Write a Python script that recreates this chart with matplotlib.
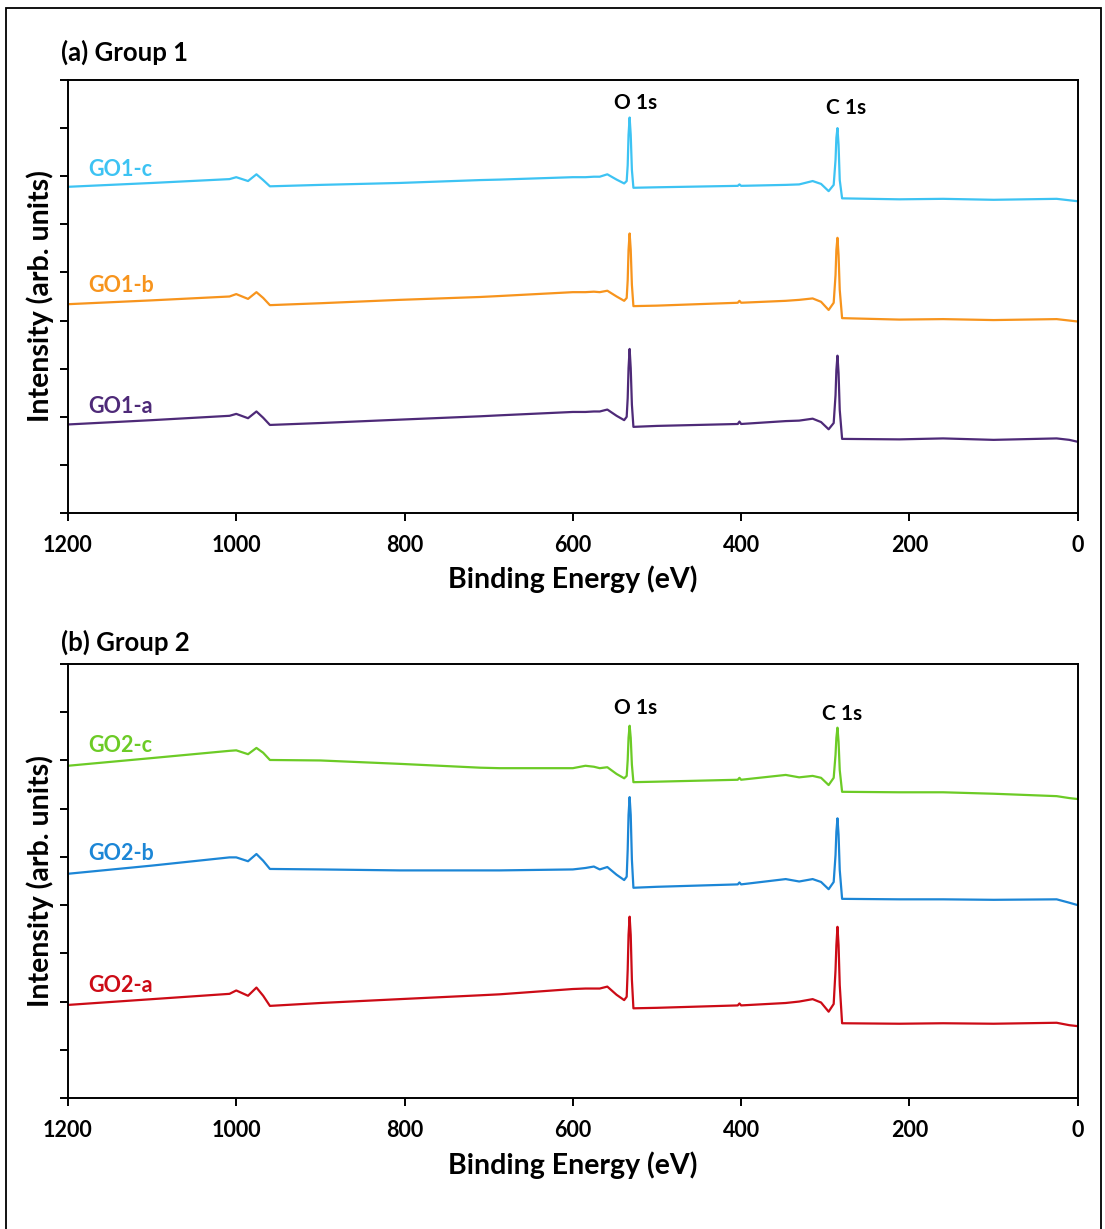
import matplotlib
matplotlib.use("Agg")
import matplotlib.pyplot as plt
from matplotlib.patches import Rectangle

plt.rcParams['font.family'] = ['Lato', 'DejaVu Sans']
plt.rcParams['font.weight'] = 'bold'

# binding energy (eV), shared by all six survey spectra
binding_energy = [1200, 1100, 1008, 1000, 986, 976, 968, 960, 900, 806, 710, 687,
                  600, 585, 575, 568, 559, 548, 539, 536, 534.8, 533.8, 532.5, 531.2,
                  529.8, 528, 500, 404, 402, 400, 347, 331, 315, 305, 296, 290, 287.8,
                  286.8, 285.5, 284.2, 282.8, 280, 212, 160, 100, 25, 10, 0]

# group 1 intensities (arb. units, stacked)
go1_c = [6.78, 6.86, 6.94, 6.98, 6.90, 7.04, 6.92, 6.79, 6.82, 6.86, 6.92, 6.93,
         6.98, 6.98, 6.99, 6.99, 7.04, 6.93, 6.85, 6.90, 7.23, 7.86, 8.22, 7.86,
         7.13, 6.76, 6.77, 6.80, 6.83, 6.80, 6.82, 6.83, 6.90, 6.84, 6.69, 6.82, 7.34,
         7.80, 8.00, 7.65, 6.92, 6.54, 6.52, 6.53, 6.51, 6.53, 6.50, 6.48]
go1_b = [4.34, 4.42, 4.50, 4.55, 4.45, 4.59, 4.47, 4.32, 4.36, 4.43, 4.49, 4.51,
         4.59, 4.59, 4.60, 4.59, 4.62, 4.50, 4.41, 4.47, 4.84, 5.47, 5.81, 5.47,
         4.74, 4.30, 4.31, 4.37, 4.41, 4.37, 4.41, 4.43, 4.46, 4.39, 4.22, 4.37, 4.95,
         5.47, 5.72, 5.36, 4.64, 4.05, 4.02, 4.03, 4.01, 4.03, 4.00, 3.98]
go1_a = [1.84, 1.93, 2.02, 2.06, 1.97, 2.11, 1.98, 1.83, 1.87, 1.94, 2.01, 2.03,
         2.10, 2.10, 2.11, 2.11, 2.15, 2.02, 1.93, 2.00, 2.39, 3.01, 3.41, 3.01,
         2.25, 1.79, 1.81, 1.85, 1.90, 1.85, 1.91, 1.92, 1.96, 1.89, 1.74, 1.87, 2.45,
         2.97, 3.27, 2.91, 2.14, 1.54, 1.53, 1.55, 1.52, 1.55, 1.52, 1.48]

# group 2 intensities
go2_c = [6.89, 7.05, 7.20, 7.21, 7.13, 7.26, 7.16, 7.01, 7.00, 6.93, 6.85, 6.84,
         6.84, 6.89, 6.87, 6.84, 6.86, 6.72, 6.63, 6.68, 7.01, 7.47, 7.72, 7.47,
         6.91, 6.55, 6.56, 6.60, 6.64, 6.60, 6.70, 6.65, 6.68, 6.64, 6.49, 6.64, 7.12,
         7.47, 7.68, 7.39, 6.80, 6.35, 6.34, 6.34, 6.31, 6.26, 6.22, 6.20]
go2_b = [4.65, 4.82, 4.99, 4.99, 4.91, 5.06, 4.92, 4.75, 4.74, 4.72, 4.72, 4.72,
         4.74, 4.77, 4.80, 4.74, 4.79, 4.63, 4.52, 4.59, 5.15, 5.87, 6.24, 5.87,
         4.94, 4.36, 4.38, 4.43, 4.47, 4.43, 4.54, 4.49, 4.54, 4.48, 4.33, 4.48, 5.04,
         5.52, 5.80, 5.46, 4.73, 4.13, 4.12, 4.12, 4.11, 4.12, 4.05, 4.00]
go2_a = [1.93, 2.05, 2.16, 2.23, 2.12, 2.29, 2.12, 1.91, 1.97, 2.05, 2.13, 2.15,
         2.26, 2.27, 2.27, 2.27, 2.31, 2.14, 2.03, 2.10, 2.66, 3.38, 3.76, 3.38,
         2.45, 1.86, 1.87, 1.92, 1.96, 1.92, 1.97, 2.00, 2.05, 1.98, 1.79, 1.95, 2.66,
         3.17, 3.55, 3.17, 2.34, 1.55, 1.54, 1.55, 1.54, 1.56, 1.51, 1.49]

x_ticks = [1200, 1000, 800, 600, 400, 200, 0]

panels = [
    {"title": "(a) Group 1", "title_y": 1.063,
     "series": [("GO1-c", go1_c, "#3DC3F3", 7.15),
                ("GO1-b", go1_b, "#F7941D", 4.72),
                ("GO1-a", go1_a, "#4E2A78", 2.22)],
     "peaks": [("O 1s", 525, 8.53), ("C 1s", 275.7, 8.41)]},
    {"title": "(b) Group 2", "title_y": 1.051,
     "series": [("GO2-c", go2_c, "#6CCB26", 7.32),
                ("GO2-b", go2_b, "#1C86D6", 5.08),
                ("GO2-a", go2_a, "#CC0B16", 2.33)],
     "peaks": [("O 1s", 525.8, 8.09), ("C 1s", 280, 7.96)]},
]

fig = plt.figure(figsize=(11.05, 12.29), dpi=100)

# outer frame of the figure
fig.patches.append(Rectangle((6 / 1105, -0.02), 1095 / 1105, 1.02 - 8 / 1229,
                             transform=fig.transFigure, fill=False,
                             edgecolor="black", linewidth=1.3))

ax_rects = [[0.0615, 0.5826, 0.9138, 0.3523],
            [0.0615, 0.1066, 0.9138, 0.3531]]

for rect, panel in zip(ax_rects, panels):
    ax = fig.add_axes(rect)
    for name, vals, color, label_y in panel["series"]:
        ax.plot(binding_energy, vals, color=color, linewidth=1.6)
        ax.text(1176, label_y, name, color=color, fontsize=15.5,
                fontweight='bold', va='center', ha='left')
    for name, px, py in panel["peaks"]:
        ax.text(px, py, name, color='black', fontsize=15,
                fontweight='bold', va='center', ha='center')

    ax.set_xlim(1200, 0)
    ax.set_ylim(0, 9)
    ax.set_xticks(x_ticks)
    ax.set_yticks(range(10))
    ax.set_yticklabels([])
    ax.tick_params(direction='out', length=6, width=1.4, labelsize=15.5, pad=10)
    for sp in ax.spines.values():
        sp.set_linewidth(1.4)

    ax.set_xlabel("Binding Energy (eV)", fontsize=20.5, fontweight='bold',
                  va='center')
    ax.xaxis.set_label_coords(0.5, -0.154)
    ax.set_ylabel("Intensity (arb. units)", fontsize=20.5, fontweight='bold',
                  va='center')
    ax.yaxis.set_label_coords(-0.0277, 0.5)
    ax.text(-0.007, panel["title_y"], panel["title"], transform=ax.transAxes,
            fontsize=18.5, fontweight='bold', ha='left', va='center')

fig.savefig("out.png", dpi=100)
